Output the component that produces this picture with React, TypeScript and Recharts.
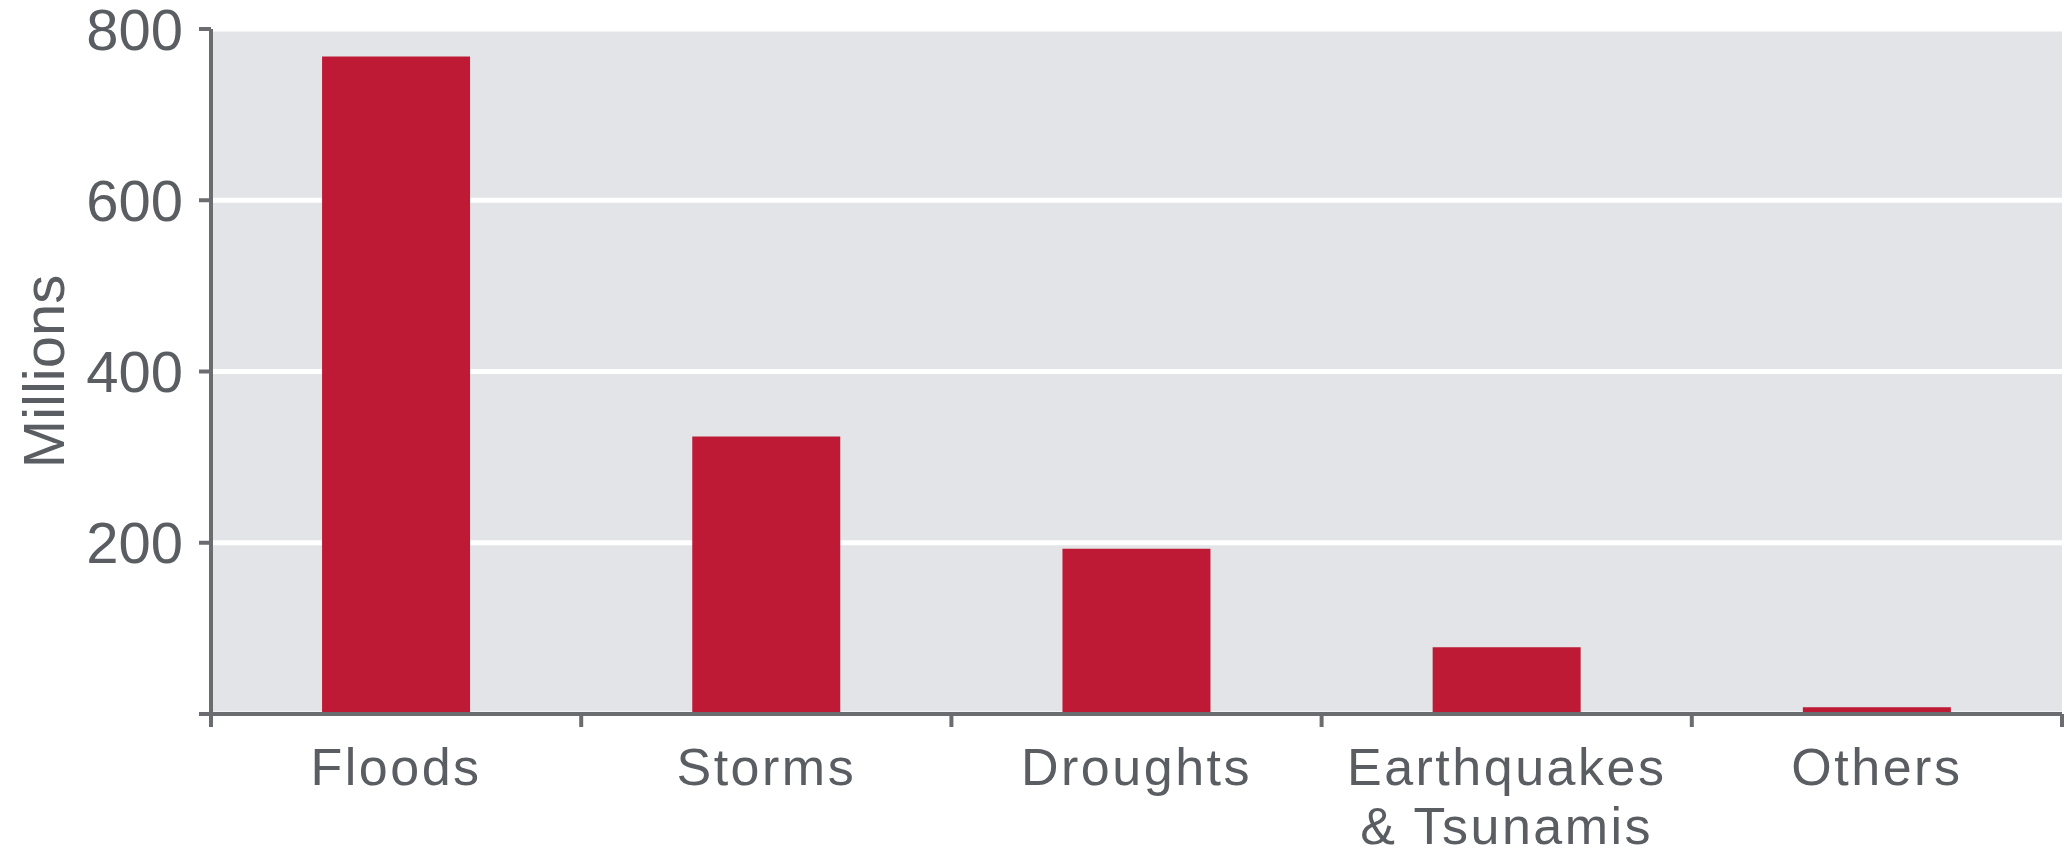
import React from 'react';
import { BarChart, Bar, XAxis, YAxis, CartesianGrid } from 'recharts';

const categories = ['Floods', 'Storms', 'Droughts', 'Earthquakes\n& Tsunamis', 'Others'];
const affected = [768, 324, 193, 78, 8];
const yTicks = [0, 200, 400, 600, 800];

const data = categories.map((name, i) => ({ name, value: affected[i] }));

const AXIS = '#6b6c70';
const TEXT = '#5a5d62';
const FONT = '"Liberation Sans", Arial, sans-serif';

// band boundary ticks + (possibly two-line) category label
function CategoryTick(props: any) {
  const { x, y, payload, index, visibleTicksCount } = props;
  const half = payload?.offset ?? 185;
  const lines = String(payload.value).split('\n');
  const isLast = index === visibleTicksCount - 1;
  return (
    <g>
      <line x1={x - half} x2={x - half} y1={y} y2={y + 13} stroke={AXIS} strokeWidth={4} />
      {isLast && <line x1={x + half} x2={x + half} y1={y} y2={y + 13} stroke={AXIS} strokeWidth={4} />}
      {lines.map((l, i) => (
        <text
          key={i}
          x={x}
          y={y + 71 + i * 59}
          textAnchor="middle"
          fill={TEXT}
          fontSize={52}
          fontFamily={FONT}
          letterSpacing={2.5}
        >
          {l}
        </text>
      ))}
    </g>
  );
}

function UnitLabel(props: any) {
  const { viewBox } = props;
  const cy = viewBox.y + viewBox.height / 2;
  const cx = 43;
  return (
    <text
      x={cx}
      y={cy}
      transform={`rotate(-90, ${cx}, ${cy})`}
      textAnchor="middle"
      dominantBaseline="central"
      fill={TEXT}
      fontSize={58}
      fontFamily={FONT}
    >
      Millions
    </text>
  );
}

export default function App() {
  return (
    <div style={{ position: 'absolute', left: 0, top: 0, background: '#fff' }}>
      <BarChart
        width={2070}
        height={849}
        data={data}
        margin={{ top: 29, right: 8, left: 0, bottom: 0 }}
        barCategoryGap="30%"
      >
        <CartesianGrid vertical={false} stroke="#ffffff" strokeWidth={5} fill="#e2e4e7" fillOpacity={1} />
        <XAxis
          dataKey="name"
          height={135}
          interval={0}
          tickLine={false}
          tickSize={0}
          tickMargin={0}
          axisLine={{ stroke: AXIS, strokeWidth: 4 }}
          tick={<CategoryTick />}
        />
        <YAxis
          width={211}
          domain={[0, 800]}
          ticks={yTicks}
          interval={0}
          tickSize={12}
          tickMargin={16}
          tickLine={{ stroke: AXIS, strokeWidth: 4 }}
          axisLine={{ stroke: AXIS, strokeWidth: 4 }}
          tickFormatter={(v: number) => (v === 0 ? '' : String(v))}
          tick={{ fill: TEXT, fontSize: 58, fontFamily: FONT }}
          label={<UnitLabel />}
        />
        <Bar dataKey="value" fill="#be1a35" isAnimationActive={false} />
      </BarChart>
    </div>
  );
}
